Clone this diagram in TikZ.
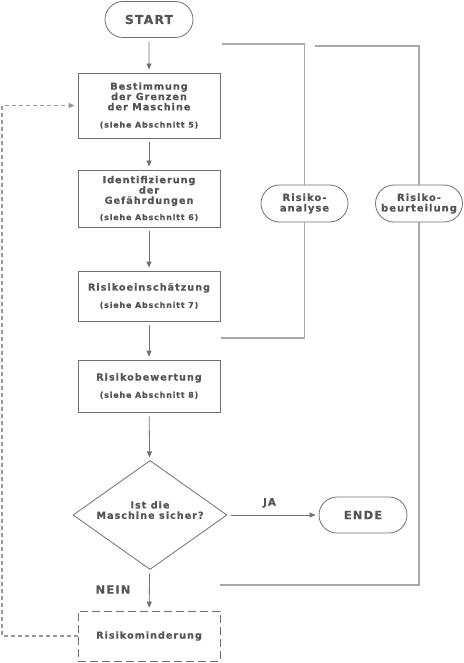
\documentclass[tikz,border=0pt]{standalone}
\usepackage{fontspec}
\setmainfont{DejaVu Sans}[LetterSpace=10,BoldFeatures={FakeBold=0.5}]
\usetikzlibrary{shapes.geometric,shapes.misc,arrows.meta}
\definecolor{txt}{HTML}{555555}
\definecolor{edge}{HTML}{707070}
\definecolor{brk}{HTML}{A8A8A8}
\definecolor{dsh}{HTML}{999999}
\begin{document}
\begin{tikzpicture}[x=1pt,y=-1pt,
  every node/.style={text=txt,font=\bfseries\fontsize{9.7}{10.3}\selectfont,align=center,inner sep=0pt},
  procbox/.style={draw=edge,line width=0.8pt,rectangle,minimum width=142pt},
  pill/.style={draw=edge,line width=0.8pt,rounded rectangle,minimum width=88pt,minimum height=36pt},
  sidepill/.style={draw=edge,line width=0.8pt,rounded rectangle,minimum width=87pt,minimum height=37pt,fill=white,font=\bfseries\fontsize{10}{10.5}\selectfont},
  flow/.style={draw=edge,line width=0.8pt,-{Triangle[length=6pt,width=5pt]},shorten <=4pt,shorten >=3pt},
  bracket/.style={draw=brk,line width=1.6pt},
]
\newcommand{\subtxt}[1]{{\fontsize{8}{9}\selectfont #1}}
\useasboundingbox (0,0) rectangle (463,663);

\node[pill,font=\bfseries\fontsize{12.3}{14}\selectfont] (start) at (149,19.5) {START};
\node[procbox,minimum height=65pt] (b1) at (149,105.5) {Bestimmung\\der Grenzen\\der Maschine\\[7pt]\subtxt{(siehe Abschnitt 5)}};
\node[procbox,minimum height=57pt] (b2) at (149,198.5) {Identifizierung\\der\\Gefährdungen\\[6pt]\subtxt{(siehe Abschnitt 6)}};
\node[procbox,minimum height=50pt] (b3) at (149,296) {Risikoeinschätzung\\[7pt]\subtxt{(siehe Abschnitt 7)}};
\node[procbox,minimum height=52pt] (b4) at (149,386) {Risikobewertung\\[7pt]\subtxt{(siehe Abschnitt 8)}};
\node[draw=edge,line width=0.8pt,diamond,aspect=1.41,minimum width=154pt,minimum height=109pt] (dia) at (150,515) {};
\node (diatext) at (150,510) {Ist die\\Maschine sicher?};
\node[pill,font=\bfseries\fontsize{11.5}{13}\selectfont] (ende) at (363,515) {ENDE};
\node[draw=edge,line width=0.8pt,dash pattern=on 8pt off 4pt,rectangle,minimum width=142pt,minimum height=50pt] (rmin) at (149,636) {Risikominderung};

\node[sidepill] (ana) at (304.5,203.5) {Risiko-\\analyse};
\node[sidepill] (beu) at (419,203.5) {Risiko-\\beurteilung};

\coordinate (a1) at (222,44);
\coordinate (a2) at (221,338);
\coordinate (c1) at (315,46);
\coordinate (c2) at (220,585);
\draw[bracket] (a1) -- (a1 -| ana) -- (ana.north);
\draw[bracket] (ana.south) -- (a2 -| ana) -- (a2);
\draw[bracket] (c1) -- (c1 -| beu) -- (beu.north);
\draw[bracket] (beu.south) -- (c2 -| beu) -- (c2);

\draw[flow] (start) -- (b1);
\draw[flow] (b1) -- (b2);
\draw[flow] (b2) -- (b3);
\draw[flow] (b3) -- (b4);
\draw[flow] (b4) -- (dia);
\draw[flow] (dia) -- (ende);
\node[font=\bfseries\fontsize{10.3}{12}\selectfont] (ja) at (269.5,503) {JA};
\draw[flow] (dia) -- (rmin);
\node[font=\bfseries\fontsize{11.5}{12}\selectfont] (nein) at (113,589.5) {NEIN};

\coordinate (l1) at (2,0);
\draw[draw=dsh,line width=1.4pt,dash pattern=on 4pt off 3pt,-{Triangle[length=6pt,width=5pt]},shorten >=3pt]
  (rmin.west) -- (rmin.west -| l1) -- (b1.west -| l1) -- (b1.west);
\end{tikzpicture}
\end{document}
